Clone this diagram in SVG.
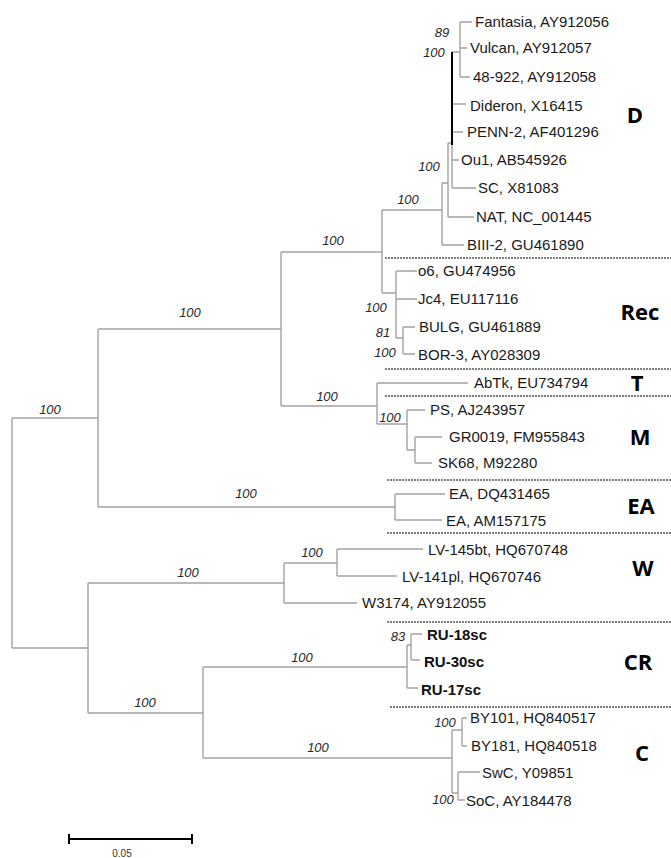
<svg xmlns="http://www.w3.org/2000/svg" width="671" height="858" viewBox="0 0 671 858">
<style>
.br{fill:none;stroke:#a3a3a3;stroke-width:1.4}
.bk{fill:none;stroke:#000;stroke-width:2}
.sep{stroke:#555;stroke-width:1.6;stroke-dasharray:2,1}
.lf{font-family:"Liberation Sans",Arial,sans-serif;font-size:15px;fill:#1a1a1a}
.bd{font-family:"Liberation Sans",Arial,sans-serif;font-size:15px;font-weight:bold;fill:#111}
.bs{font-family:"Liberation Sans",Arial,sans-serif;font-size:13px;font-style:italic;fill:#2a2a2a;text-anchor:middle}
.cl{font-family:"Open Sans","Liberation Sans",sans-serif;font-size:22px;font-weight:bold;fill:#000;text-anchor:middle}
.sc{font-family:"Liberation Sans",Arial,sans-serif;font-size:10px;fill:#333;text-anchor:middle}
</style>
<rect width="671" height="858" fill="#fff"/>
<g id="connectors">
<path class="br" d="M12,418V648M12,418H98M12,648H88"/>
<path class="br" d="M98,329V507M98,329H281M98,507H395"/>
<path class="br" d="M281,252V406M281,252H382M281,406H377"/>
<path class="br" d="M382,210V293M382,210H442M382,293H396"/>
<path class="br" d="M442,183V245M442,245H464M442,183H448"/>
<path class="br" d="M448,143V217M448,217H474M448,143H452"/>
<path class="br" d="M452,145V188M452,104H466M452,132H463M452,160H459M452,188H476M452,52H460"/>
<path class="bk" d="M452,52V145"/>
<path class="br" d="M460,22V77M460,22H472M460,48H467M460,77H470"/>
<path class="br" d="M396,271V338M396,271H417M396,299H417M396,338H403M403,327V354M403,327H415M403,354H415"/>
<path class="br" d="M377,383V424M377,383H468M377,424H407M407,410V450M407,410H425M407,450H415M415,437V463M415,437H442M415,463H432"/>
<path class="br" d="M395,494V520M395,494H445M395,520H442"/>
<path class="br" d="M88,583V713M88,583H284M88,713H203"/>
<path class="br" d="M284,563V603M284,563H337M284,603H357M337,549V576M337,549H423M337,576H397"/>
<path class="br" d="M203,667V758M203,667H407M203,758H452"/>
<path class="br" d="M407,645V688M407,645H411M411,634V660M411,634H422M411,660H420M407,688H418"/>
<path class="br" d="M452,730V793M452,730H462M462,718V746M462,718H467M462,746H467M452,793H458M458,772V800M458,772H480M458,800H465"/>
</g>
<g id="separators">
<line class="sep" x1="385" y1="258" x2="671" y2="258"/>
<line class="sep" x1="385" y1="369" x2="671" y2="369"/>
<line class="sep" x1="385" y1="396" x2="671" y2="396"/>
<line class="sep" x1="387" y1="480" x2="671" y2="480"/>
<line class="sep" x1="387" y1="533" x2="671" y2="533"/>
<line class="sep" x1="387" y1="622" x2="671" y2="622"/>
<line class="sep" x1="390" y1="707" x2="671" y2="707"/>
</g>
<g id="support">
<text class="bs" x="50" y="414">100</text>
<text class="bs" x="190" y="317">100</text>
<text class="bs" x="333" y="245">100</text>
<text class="bs" x="327" y="401">100</text>
<text class="bs" x="408" y="204">100</text>
<text class="bs" x="429" y="171">100</text>
<text class="bs" x="442" y="37">89</text>
<text class="bs" x="434" y="57">100</text>
<text class="bs" x="376" y="312">100</text>
<text class="bs" x="383" y="337">81</text>
<text class="bs" x="385" y="357">100</text>
<text class="bs" x="390" y="422">100</text>
<text class="bs" x="246" y="498">100</text>
<text class="bs" x="188" y="577">100</text>
<text class="bs" x="312" y="557">100</text>
<text class="bs" x="145" y="707">100</text>
<text class="bs" x="302" y="662">100</text>
<text class="bs" x="318" y="752">100</text>
<text class="bs" x="398" y="641">83</text>
<text class="bs" x="445" y="727">100</text>
<text class="bs" x="443" y="804">100</text>
</g>
<g id="leaves">
<text class="lf" x="475" y="27">Fantasia, AY912056</text>
<text class="lf" x="470" y="53">Vulcan, AY912057</text>
<text class="lf" x="473" y="82">48-922, AY912058</text>
<text class="lf" x="470" y="111">Dideron, X16415</text>
<text class="lf" x="467" y="137">PENN-2, AF401296</text>
<text class="lf" x="461" y="165">Ou1, AB545926</text>
<text class="lf" x="478" y="193">SC, X81083</text>
<text class="lf" x="476" y="222">NAT, NC_001445</text>
<text class="lf" x="467" y="250">BIII-2, GU461890</text>
<text class="lf" x="418" y="276">o6, GU474956</text>
<text class="lf" x="418" y="304">Jc4, EU117116</text>
<text class="lf" x="419" y="332">BULG, GU461889</text>
<text class="lf" x="418" y="360">BOR-3, AY028309</text>
<text class="lf" x="474" y="388">AbTk, EU734794</text>
<text class="lf" x="430" y="415">PS, AJ243957</text>
<text class="lf" x="449" y="442">GR0019, FM955843</text>
<text class="lf" x="438" y="468">SK68, M92280</text>
<text class="lf" x="449" y="499">EA, DQ431465</text>
<text class="lf" x="446" y="526">EA, AM157175</text>
<text class="lf" x="428" y="555">LV-145bt, HQ670748</text>
<text class="lf" x="402" y="582">LV-141pl, HQ670746</text>
<text class="lf" x="362" y="608">W3174, AY912055</text>
<text class="bd" x="427" y="640">RU-18sc</text>
<text class="bd" x="424" y="667">RU-30sc</text>
<text class="bd" x="421" y="695">RU-17sc</text>
<text class="lf" x="470" y="723">BY101, HQ840517</text>
<text class="lf" x="471" y="751">BY181, HQ840518</text>
<text class="lf" x="482" y="778">SwC, Y09851</text>
<text class="lf" x="466" y="806">SoC, AY184478</text>
</g>
<g id="clades">
<text class="cl" x="635" y="123">D</text>
<text class="cl" x="640" y="320">Rec</text>
<text class="cl" x="637" y="391">T</text>
<text class="cl" x="640" y="445">M</text>
<text class="cl" x="641" y="514">EA</text>
<text class="cl" x="643" y="576">W</text>
<text class="cl" x="638" y="670">CR</text>
<text class="cl" x="642" y="761">C</text>
</g>
<g id="scale">
<path class="bk" d="M69,839H192M69,834V844M192,834V844"/>
<text class="sc" x="122" y="857">0.05</text>
</g>
</svg>
